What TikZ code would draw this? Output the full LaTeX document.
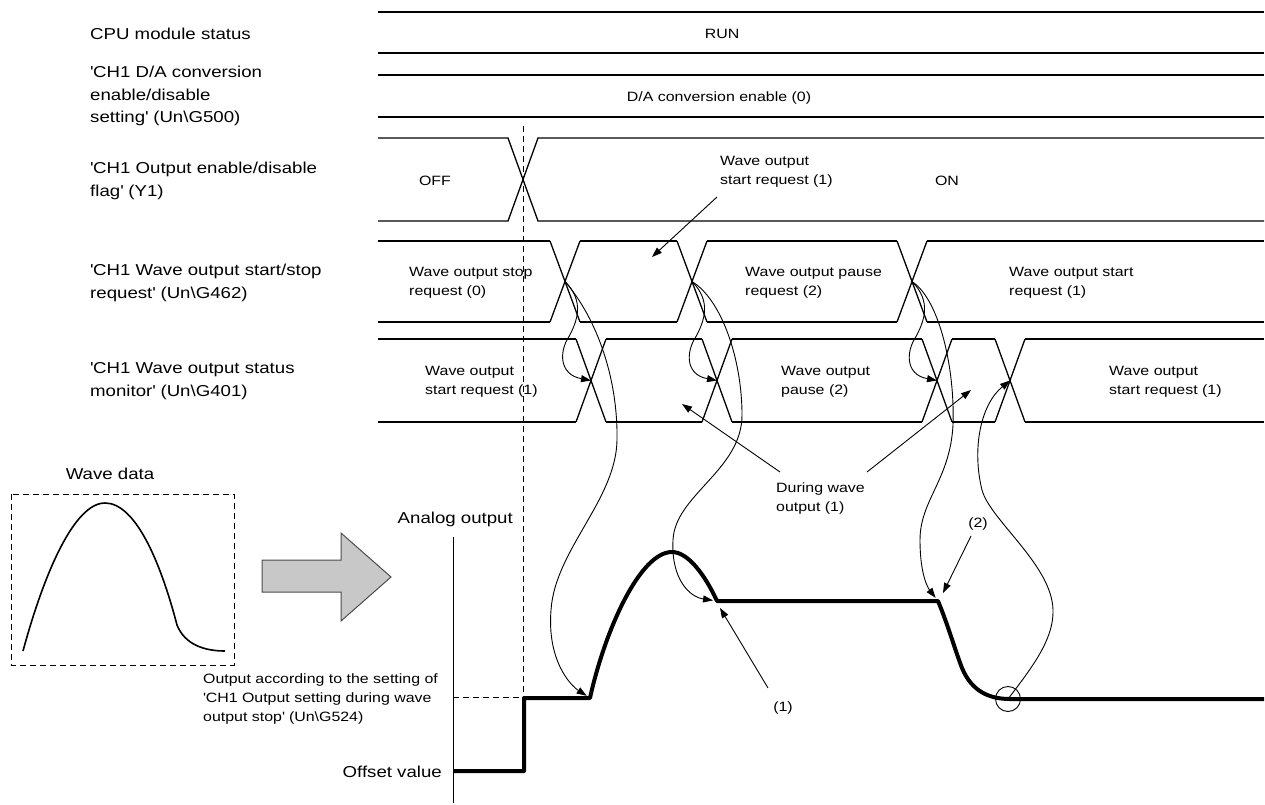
\documentclass[tikz,border=0pt]{standalone}
\usepackage{fontspec}
\setmainfont{Liberation Sans}[FakeStretch=1.18]
\usetikzlibrary{calc,arrows.meta}

\definecolor{fatarrow}{RGB}{200,200,200}
\newcommand\rowlabfont{\fontsize{15.8}{22.5}\selectfont}
\newcommand\notetxtfont{\fontsize{13.5}{19}\selectfont}
\newcommand\qmark{\textquotesingle}

\tikzset{
  lab/.style={font=\rowlabfont,align=left,inner sep=0pt},
  note/.style={font=\notetxtfont,align=left,inner sep=0pt},
  sig/.style={line width=1.3pt},
  arr/.style={line width=0.9pt,-{Triangle[length=10pt,width=7pt]}},
  thk/.style={line width=4pt,line join=round},
  dsh/.style={line width=1pt,dash pattern=on 6pt off 4pt}
}

\begin{document}
\begin{tikzpicture}[x=1pt,y=-1pt]
  \useasboundingbox (0,0) rectangle (1265,805);
  % row names
  \node[lab,anchor=west] (cpulab) at (90,34) {CPU module status};
  \node[lab,anchor=west] (g500lab) at (90,96) {\qmark CH1 D/A conversion\\enable/disable\\setting\qmark{} (Un\textbackslash G500)};
  \node[lab,anchor=west] (y1lab) at (90,181) {\qmark CH1 Output enable/disable\\flag\qmark{} (Y1)};
  \node[lab,anchor=west] (g462lab) at (90,283) {\qmark CH1 Wave output start/stop\\request\qmark{} (Un\textbackslash G462)};
  \node[lab,anchor=west] (g401lab) at (90,381) {\qmark CH1 Wave output status\\monitor\qmark{} (Un\textbackslash G401)};

  % CPU status and G500
  \foreach \y in {12,53,75,117} \draw[sig] (378,\y) -- (1264,\y);
  \node[note] (run) at (722,34) {RUN};
  \node[note] (daen) at (719,98) {D/A conversion enable (0)};

  % Y1
  \draw[sig] (378,138) -- (508,138) -- (538,221) -- (1264,221);
  \draw[sig] (378,221) -- (508,221) -- (538,138) -- (1264,138);
  \node[note] (off) at (435,181) {OFF};
  \node[note] (on) at (947,181) {ON};
  \node[note,anchor=west] (y1req) at (720,172) {Wave output\\start request (1)};

  % G462
  \foreach \a/\b in {378/550,580/677,707/897,927/1264} {
    \draw[sig] (\a,241) -- (\b,241);
    \draw[sig] (\a,322) -- (\b,322);
  }
  \foreach \x in {550,677,897} {
    \draw[sig] (\x,241) -- (\x+30,322);
    \draw[sig] (\x,322) -- (\x+30,241);
  }
  \node[note,anchor=west] (stop0) at (409,283) {Wave output stop\\request (0)};
  \node[note,anchor=west] (pause2) at (745,283) {Wave output pause\\request (2)};
  \node[note,anchor=west] (start1) at (1009,283) {Wave output start\\request (1)};

  % G401
  \foreach \a/\b in {378/576,606/702,732/922,952/995,1025/1264} {
    \draw[sig] (\a,339) -- (\b,339);
    \draw[sig] (\a,422) -- (\b,422);
  }
  \foreach \x in {576,702,922,995} {
    \draw[sig] (\x,339) -- (\x+30,422);
    \draw[sig] (\x,422) -- (\x+30,339);
  }
  \node[note,anchor=west] (mon1) at (425,382) {Wave output\\start request (1)};
  \node[note,anchor=west] (mon2) at (781,382) {Wave output\\pause (2)};
  \node[note,anchor=west] (mon3) at (1109,382) {Wave output\\start request (1)};

  % crossings and points on the output
  \coordinate (q1) at (565,281.5);
  \coordinate (q2) at (692,281.5);
  \coordinate (q3) at (912,281.5);
  \coordinate (m1) at (591,380.5);
  \coordinate (m2) at (717,380.5);
  \coordinate (m3) at (937,380.5);
  \coordinate (m4) at (1010,380.5);
  \coordinate (a1) at (590,698);
  \coordinate (a2) at (717,601);
  \coordinate (a3) at (938,601);
  \coordinate (a4) at (1008,699);

  % timing reference
  \draw[dsh] (523,126) -- (523,697);
  \draw[dsh] (453,697) -- (523,697);

  % wave data
  \node[lab] (wdata) at (110,474) {Wave data};
  \draw[dsh] (11,494) rectangle (234,665);
  \draw[line width=1.6pt] (23,651) .. controls (45,570) and (75,503) .. (105,503)
    .. controls (135,503) and (160,560) .. (177,625)
    .. controls (185,645) and (205,651) .. (225,651);
  \draw[fill=fatarrow,draw=black!70,line width=1pt] (262,560) -- (341,560) -- (341,533) -- (391,577)
    -- (341,621) -- (341,592) -- (262,592) -- cycle;

  % analog output
  \node[lab,anchor=east] (anout) at (513,519) {Analog output};
  \node[lab,anchor=east] (offs) at (442,772) {Offset value};
  \node[note,anchor=west] (g524) at (203,699) {Output according to the setting of\\\qmark CH1 Output setting during wave\\output stop\qmark{} (Un\textbackslash G524)};
  \draw[line width=1pt] (453,537) -- (453,803);
  \draw[thk] (453,771) -- (524,771) -- (524,698) -- (a1)
    .. controls (605,630) and (640,552) .. (672,552)
    .. controls (688,552) and (705,575) .. (a2) -- (a3)
    .. controls (948,625) and (955,650) .. (962,668)
    .. controls (972,692) and (990,699) .. (1010,699) -- (1264,699);
  \draw[line width=0.9pt] (a4) circle [radius=12.5pt];

  % request -> status
  \foreach \q/\m in {q1/m1,q2/m2,q3/m3}
    \draw[arr] (\q) .. controls +(20,20) and +(8,-15) .. ($(\q)+(4,55)$)
      .. controls +(-10,15) and +(-32,-6) .. (\m);

  % request -> output
  \draw[arr,shorten >=4pt] (q1) .. controls (598,320) and (618,380) .. (617,440)
    .. controls (616,500) and (555,550) .. (551,610)
    .. controls (547,660) and (570,685) .. (a1);
  \draw[arr,shorten >=4pt] (q2) .. controls (722,300) and (742,360) .. (742,415)
    .. controls (742,470) and (675,495) .. (673,540)
    .. controls (671,580) and (690,597) .. (a2);
  \draw[arr,shorten >=4pt] (q3) .. controls (940,300) and (955,370) .. (953,425)
    .. controls (950,480) and (920,500) .. (920,540)
    .. controls (920,575) and (928,588) .. (a3);
  \draw[arr] (a4) .. controls (1030,670) and (1054,640) .. (1053,610)
    .. controls (1052,565) and (990,520) .. (982,490)
    .. controls (972,450) and (980,405) .. (m4);

  % callouts
  \node[note,anchor=west] (during) at (776,499) {During wave\\output (1)};
  \node[note] (one) at (783,708) {(1)};
  \node[note] (two) at (978,524) {(2)};
  \coordinate (reqfoot) at (717,197);
  \coordinate (reqtip) at (652,257);
  \coordinate (dw1foot) at (780,472);
  \coordinate (dw1tip) at (682,404);
  \coordinate (dw2foot) at (867,472);
  \coordinate (dw2tip) at (971,390);
  \coordinate (onefoot) at (768,688);
  \coordinate (onetip) at (720,608);
  \coordinate (twofoot) at (971,536);
  \coordinate (twotip) at (943,593);
  \draw[arr] (reqfoot) -- (reqtip);
  \draw[arr] (dw1foot) -- (dw1tip);
  \draw[arr] (dw2foot) -- (dw2tip);
  \draw[arr] (onefoot) -- (onetip);
  \draw[arr] (twofoot) -- (twotip);
\end{tikzpicture}
\end{document}
